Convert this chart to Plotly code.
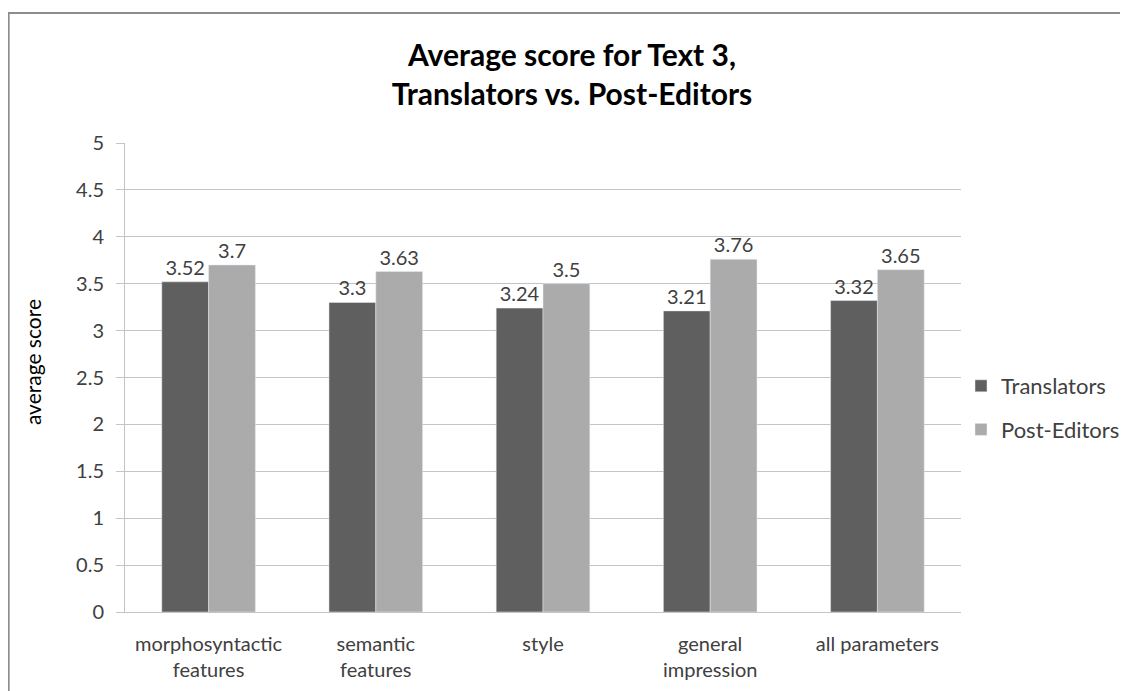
import plotly.graph_objects as go

categories = ["morphosyntactic<br>features", "semantic<br>features", "style", "general<br>impression", "all parameters"]
translators = [3.52, 3.3, 3.24, 3.21, 3.32]
post_editors = [3.7, 3.63, 3.5, 3.76, 3.65]
y_ticks = [0, 0.5, 1, 1.5, 2, 2.5, 3, 3.5, 4, 4.5, 5]
y_tick_labels = ["0", "0.5", "1", "1.5", "2", "2.5", "3", "3.5", "4", "4.5", "5"]

FONT = "Lato"
L, R, T, B = 117, 174, 135, 87
PW, PH = 1128 - L - R, 691 - T - B

fig = go.Figure()
fig.add_trace(go.Bar(name="Translators", x=categories, y=translators, marker_color="#5f5f5f",
                     legendgroup="t",
                     text=[str(v) for v in translators], textposition="outside",
                     textfont=dict(size=20, color="#404040", family=FONT), cliponaxis=False))
fig.add_trace(go.Bar(name="Post-Editors", x=categories, y=post_editors, marker_color="#ababab",
                     legendgroup="p",
                     text=[str(v) for v in post_editors], textposition="outside",
                     textfont=dict(size=20, color="#404040", family=FONT), cliponaxis=False))

fig.update_layout(
    width=1128, height=691,
    paper_bgcolor="white", plot_bgcolor="white",
    margin=dict(l=L, r=R, t=T, b=B),
    barmode="group", bargap=0.44, bargroupgap=0,
    font=dict(family=FONT, color="#404040", size=20),
    title=dict(text="<b>Average score for Text 3,<br>Translators vs. Post-Editors</b>",
               x=0.5, xanchor="center", y=(691 - 58) / 691, yanchor="middle",
               font=dict(size=30, color="#000000", family=FONT)),
    legend=dict(x=(953 - L) / PW, y=(T + PH - 400) / PH, xanchor="left", yanchor="middle",
                traceorder="grouped",
                font=dict(size=22, color="#404040", family=FONT), itemwidth=30, tracegroupgap=12),
)
fig.update_yaxes(range=[0, 5], tickvals=y_ticks, ticktext=y_tick_labels,
                 showgrid=True, gridcolor="#c4c4c4", gridwidth=1,
                 showline=True, linecolor="#c4c4c4", linewidth=1,
                 ticks="outside", ticklen=8, tickcolor="#c4c4c4", ticklabelstandoff=8,
                 tickfont=dict(size=20, color="#404040"),
                 zeroline=False)
fig.update_xaxes(showline=True, linecolor="#c4c4c4", linewidth=1, ticklabelstandoff=14,
                 tickfont=dict(size=20, color="#404040"), ticks="", showgrid=False)

# y-axis title (placed as annotation to match the reference position)
fig.add_annotation(text="average score", textangle=-90, showarrow=False,
                   xref="paper", yref="paper",
                   x=(32 - 8 - L) / PW, y=(T + PH - 354) / PH,
                   xanchor="center", yanchor="middle",
                   font=dict(size=21, color="#000000", family=FONT))

# outer chart border
fig.add_shape(type="rect", xref="paper", yref="paper",
              x0=(0.5 - L) / PW, x1=(1200 - L) / PW,
              y0=(T + PH - 760) / PH, y1=(T + PH - 5) / PH,
              line=dict(color="#8c8c8c", width=2), layer="below")

fig.write_html("out.html")
